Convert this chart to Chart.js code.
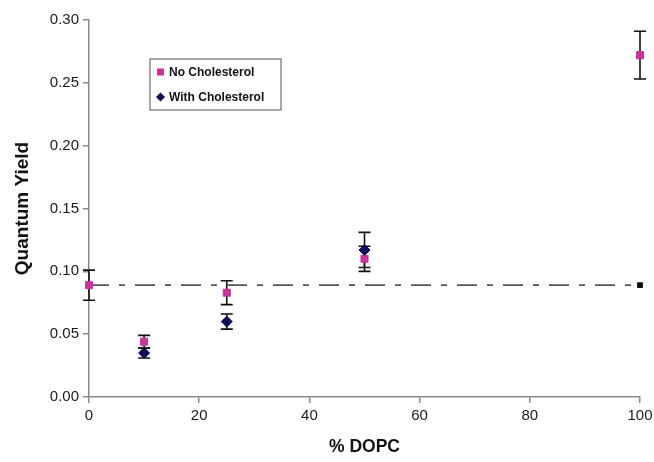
<!DOCTYPE html>
<html>
<head>
<meta charset="utf-8">
<script src="https://cdn.jsdelivr.net/npm/chart.js@4.4.1/dist/chart.umd.min.js"></script>
<style>
  html, body { margin: 0; padding: 0; background: #fff; }
  #wrap { width: 654px; height: 462px; position: relative; }
</style>
</head>
<body>
<div id="wrap"><canvas id="qyChart"></canvas></div>
<script>
// % DOPC in the membrane and measured quantum yields (mean ± error)
const dopc = [0, 10, 25, 50, 100];
const noChol = [0.089, 0.044, 0.083, 0.110, 0.272];
const noCholErr = [0.012, 0.005, 0.0095, 0.010, 0.019];

const dopcChol = [10, 25, 50];
const withChol = [0.035, 0.060, 0.117];
const withCholErr = [0.004, 0.006, 0.014];

// reference level drawn across the whole range
const refX = [0, 100];
const refY = 0.089;

const xTicks = [0, 20, 40, 60, 80, 100];
const yTicks = [0, 0.05, 0.10, 0.15, 0.20, 0.25, 0.30];

const pink = '#c8359a';
const navy = '#0d0d55';
const axisGray = '#8a8a8a';
const fontFamily = '"Liberation Sans", Arial, sans-serif';

const toPoints = (xs, ys) => xs.map((x, i) => ({ x, y: Array.isArray(ys) ? ys[i] : ys }));

// vertical error bars with caps, drawn under the markers
const errorBars = {
  id: 'errorBars',
  beforeDatasetsDraw(chart) {
    const { ctx, scales: { x, y } } = chart;
    const sets = [
      [dopc, noChol, noCholErr],
      [dopcChol, withChol, withCholErr],
    ];
    ctx.save();
    ctx.strokeStyle = '#111';
    ctx.lineWidth = 1.6;
    sets.forEach(([xs, ys, errs]) => {
      xs.forEach((xv, i) => {
        const px = x.getPixelForValue(xv);
        const top = y.getPixelForValue(ys[i] + errs[i]);
        const bot = y.getPixelForValue(ys[i] - errs[i]);
        ctx.beginPath();
        ctx.moveTo(px, top);
        ctx.lineTo(px, bot);
        ctx.moveTo(px - 6, top);
        ctx.lineTo(px + 6, top);
        ctx.moveTo(px - 6, bot);
        ctx.lineTo(px + 6, bot);
        ctx.stroke();
      });
    });
    ctx.restore();
  },
};

// boxed legend sitting inside the plot area
const boxLegend = {
  id: 'boxLegend',
  afterDraw(chart) {
    const { ctx, chartArea } = chart;
    const left = chartArea.left + 61;
    const top = chartArea.top + 39;
    const w = 131, h = 51;
    ctx.save();
    ctx.strokeStyle = '#8c8c8c';
    ctx.lineWidth = 1.5;
    ctx.strokeRect(left, top, w, h);
    ctx.font = 'bold 12px ' + fontFamily;
    ctx.textBaseline = 'middle';

    const y1 = top + 13, y2 = top + 38;
    ctx.fillStyle = pink;
    ctx.fillRect(left + 7, y1 - 3.5, 7, 7);
    ctx.fillStyle = navy;
    ctx.beginPath();
    ctx.moveTo(left + 10.5, y2 - 4.5);
    ctx.lineTo(left + 15, y2);
    ctx.lineTo(left + 10.5, y2 + 4.5);
    ctx.lineTo(left + 6, y2);
    ctx.closePath();
    ctx.fill();

    ctx.fillStyle = '#111';
    ctx.fillText('No Cholesterol', left + 19, y1 + 1);
    ctx.fillText('With Cholesterol', left + 19, y2 + 1);
    ctx.restore();
  },
};

const ctx = document.getElementById('qyChart').getContext('2d');
new Chart(ctx, {
  type: 'scatter',
  data: {
    datasets: [
      {
        label: 'Reference',
        data: toPoints(refX, refY),
        showLine: true,
        clip: false,
        borderColor: '#555',
        borderWidth: 1.6,
        borderDash: [20, 10, 6, 10],
        pointStyle: 'rect',
        pointRadius: 3,
        pointBackgroundColor: '#111',
        pointBorderColor: '#111',
        order: 3,
      },
      {
        label: 'No Cholesterol',
        data: toPoints(dopc, noChol),
        clip: false,
        pointStyle: 'rect',
        pointRadius: 5,
        backgroundColor: pink,
        borderColor: pink,
        order: 2,
      },
      {
        label: 'With Cholesterol',
        data: toPoints(dopcChol, withChol),
        clip: false,
        pointStyle: 'rectRot',
        pointRadius: 5.5,
        backgroundColor: navy,
        borderColor: navy,
        order: 1,
      },
    ],
  },
  options: {
    responsive: true,
    maintainAspectRatio: false,
    animation: false,
    layout: { padding: { top: 20, right: 14, left: 0, bottom: 0 } },
    plugins: {
      legend: { display: false },
      tooltip: { enabled: false },
    },
    scales: {
      x: {
        type: 'linear',
        min: 0,
        max: 100,
        afterBuildTicks(scale) {
          scale.ticks = xTicks.map(value => ({ value }));
        },
        afterFit(scale) {
          scale.height = 65;
          // let the last tick label run into the right margin
          scale.paddingRight = 0;
        },
        grid: { drawOnChartArea: false, color: axisGray, tickLength: 6, lineWidth: 1.5 },
        border: { color: axisGray, width: 1.5 },
        ticks: {
          color: '#1a1a1a',
          padding: 4,
          font: { family: fontFamily, size: 15 },
        },
        title: {
          display: true,
          text: '% DOPC',
          color: '#111',
          padding: { top: 11 },
          font: { family: fontFamily, size: 17.5, weight: 'bold' },
        },
      },
      y: {
        min: 0,
        max: 0.3,
        afterBuildTicks(scale) {
          scale.ticks = yTicks.map(value => ({ value }));
        },
        afterFit(scale) { scale.width = 89; },
        grid: { drawOnChartArea: false, color: axisGray, tickLength: 6, lineWidth: 1.5 },
        border: { color: axisGray, width: 1.5 },
        ticks: {
          color: '#1a1a1a',
          padding: 4,
          callback: v => v.toFixed(2),
          font: { family: fontFamily, size: 15 },
        },
        title: {
          display: true,
          text: 'Quantum Yield',
          color: '#111',
          padding: { top: 11, bottom: 0 },
          font: { family: fontFamily, size: 19, weight: 'bold' },
        },
      },
    },
  },
  plugins: [errorBars, boxLegend],
});
</script>
</body>
</html>
